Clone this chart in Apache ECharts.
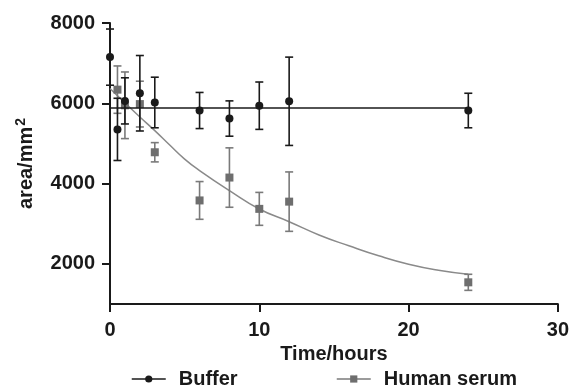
<!DOCTYPE html>
<html>
<head>
<meta charset="utf-8">
<script src="https://cdn.jsdelivr.net/npm/echarts@6/dist/echarts.min.js"></script>
<style>
  html, body { margin: 0; padding: 0; background: #fff; }
  #chart { width: 572px; height: 391px; }
</style>
</head>
<body>
<div id="chart"></div>
<script>
// values
const bufferTimes = [0, 0.5, 1, 2, 3, 6, 8, 10, 12, 24];
const bufferMean = [7150, 5350, 6060, 6250, 6020, 5820, 5620, 5940, 6050, 5820];
const bufferErr = [700, 775, 575, 940, 630, 450, 440, 590, 1100, 430];

const serumTimes = [0.5, 1, 2, 3, 6, 8, 10, 12, 24];
const serumMean = [6340, 5950, 5980, 4780, 3580, 4150, 3370, 3550, 1540];
const serumErr = [590, 830, 570, 240, 470, 740, 410, 740, 200];

// fitted curves
const bufferFitTimes = [0, 24];
const bufferFit = [5880, 5880];
const serumFitTimes = [0, 1, 2, 3, 4, 5, 6, 8, 10, 12, 14, 16, 18, 20, 22, 24];
const serumFit = [6370, 6010, 5660, 5320, 4960, 4610, 4325, 3825, 3367, 3050, 2720, 2450, 2200, 1990, 1840, 1740];

const yTicks = [2000, 4000, 6000, 8000];

const FONT = 'Liberation Sans';
const BLACK = '#1a1a1a';
const GREY = '#7a7a7a';
const FS = 20;

const errorBars = (color) => (params, api) => {
  const x = api.value(0);
  const lo = api.coord([x, api.value(1)]);
  const hi = api.coord([x, api.value(2)]);
  const w = 4;
  const style = { stroke: color, lineWidth: 1.6 };
  return {
    type: 'group',
    children: [
      { type: 'line', shape: { x1: lo[0], y1: lo[1], x2: hi[0], y2: hi[1] }, style },
      { type: 'line', shape: { x1: lo[0] - w, y1: lo[1], x2: lo[0] + w, y2: lo[1] }, style },
      { type: 'line', shape: { x1: hi[0] - w, y1: hi[1], x2: hi[0] + w, y2: hi[1] }, style },
    ],
  };
};

const chart = echarts.init(document.getElementById('chart'));
chart.setOption({
  animation: false,
  textStyle: { fontFamily: FONT },
  grid: { left: 110, right: 12, top: 23, bottom: 87 },
  legend: [
    {
      data: ['Buffer'],
      left: 126, top: 364,
      itemWidth: 34, itemHeight: 9,
      textStyle: { fontSize: FS, fontWeight: 'bold', color: BLACK, padding: [0, 0, 0, 8] },
      lineStyle: { width: 1.5, color: BLACK, opacity: 1 },
    },
    {
      data: ['Human serum'],
      left: 331, top: 364,
      itemWidth: 34, itemHeight: 9,
      textStyle: { fontSize: FS, fontWeight: 'bold', color: BLACK, padding: [0, 0, 0, 8] },
      lineStyle: { width: 1.5, color: GREY, opacity: 1 },
    },
  ],
  xAxis: {
    type: 'value',
    min: 0, max: 30, interval: 10,
    name: 'Time/hours',
    nameLocation: 'middle',
    nameGap: 36,
    nameTextStyle: { fontSize: FS, fontWeight: 'bold', color: BLACK },
    axisLine: { lineStyle: { color: BLACK, width: 2 } },
    axisTick: { inside: false, length: 8, lineStyle: { color: BLACK, width: 2 } },
    axisLabel: { fontSize: FS, fontWeight: 'bold', color: BLACK, margin: 16 },
    splitLine: { show: false },
  },
  yAxis: {
    type: 'value',
    min: 1000, max: 8000,
    name: '{a|area/mm}{s|2}',
    nameLocation: 'middle',
    nameGap: 72,
    nameTextStyle: {
      rich: {
        a: { fontSize: FS, fontWeight: 'bold', color: BLACK, fontFamily: FONT },
        s: { fontSize: 14, fontWeight: 'bold', color: BLACK, fontFamily: FONT, padding: [0, 0, 10, 1] },
      },
    },
    axisLine: { show: true, lineStyle: { color: BLACK, width: 2 } },
    axisTick: { show: true, length: 8, customValues: yTicks, lineStyle: { color: BLACK, width: 2 } },
    axisLabel: {
      fontSize: FS, fontWeight: 'bold', color: BLACK, margin: 15,
      customValues: yTicks,
      formatter: (v) => String(v),
    },
    splitLine: { show: false },
  },
  series: [
    {
      name: 'Human serum fit',
      type: 'line',
      data: serumFitTimes.map((t, i) => [t, serumFit[i]]),
      smooth: true,
      showSymbol: false,
      lineStyle: { color: '#8a8a8a', width: 1.5 },
      z: 1,
    },
    {
      type: 'custom',
      renderItem: errorBars(GREY),
      data: serumTimes.map((t, i) => [t, serumMean[i] - serumErr[i], serumMean[i] + serumErr[i]]),
      z: 2,
    },
    {
      name: 'Human serum',
      type: 'line',
      data: serumTimes.map((t, i) => [t, serumMean[i]]),
      symbol: 'rect',
      symbolSize: 8,
      itemStyle: { color: '#6e6e6e' },
      lineStyle: { width: 0, opacity: 0 },
      z: 3,
    },
    {
      name: 'Buffer fit',
      type: 'line',
      data: bufferFitTimes.map((t, i) => [t, bufferFit[i]]),
      showSymbol: false,
      lineStyle: { color: BLACK, width: 1.5 },
      z: 4,
    },
    {
      type: 'custom',
      renderItem: errorBars(BLACK),
      data: bufferTimes.map((t, i) => [t, bufferMean[i] - bufferErr[i], bufferMean[i] + bufferErr[i]]),
      z: 5,
    },
    {
      name: 'Buffer',
      type: 'line',
      data: bufferTimes.map((t, i) => [t, bufferMean[i]]),
      symbol: 'circle',
      symbolSize: 8,
      itemStyle: { color: BLACK },
      lineStyle: { width: 0, opacity: 0 },
      z: 6,
    },
  ],
});
</script>
</body>
</html>
